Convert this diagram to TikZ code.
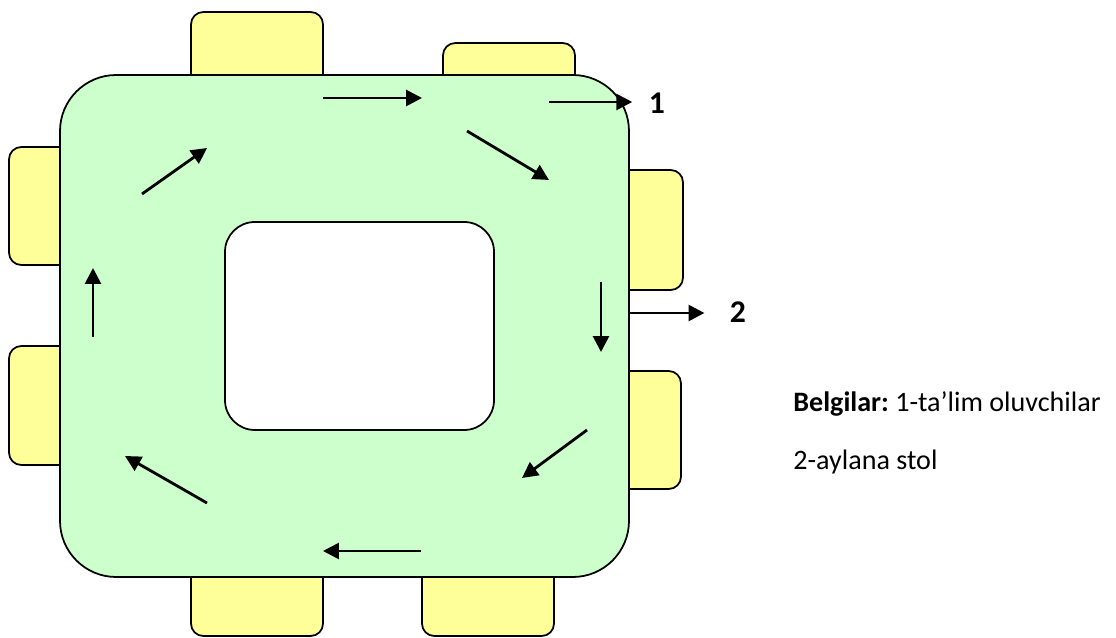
\documentclass[tikz,border=0pt]{standalone}
\usepackage{fontspec}
\setmainfont{Carlito}
\usepackage{xcolor}
\usetikzlibrary{arrows.meta}
\usetikzlibrary{positioning}

\definecolor{tablegreen}{HTML}{CCFFCC}
\definecolor{chairyellow}{HTML}{FFFF99}

\begin{document}
\begin{tikzpicture}[x=0.02cm, y=-0.02cm,
                    chair/.style={draw, line width=1pt, fill=chairyellow, rounded corners=7pt},
                    flow/.style={line width=1.6pt, -{Triangle[length=9pt,width=9pt]}},
                    digit/.style={font=\fontsize{18}{21}\selectfont\bfseries},
                    legend/.style={font=\fontsize{16}{19}\selectfont\frenchspacing, anchor=base west, inner sep=0pt}]
        \useasboundingbox (0,0) rectangle (1116,638);
        \draw[chair] (191,12) rectangle (323,110);
        \draw[chair] (443,43) rectangle (575,110);
        \draw[chair] (9,147) rectangle (100,265);
        \draw[chair] (9,346) rectangle (100,465);
        \draw[chair] (590,170) rectangle (683,290);
        \draw[chair] (590,371) rectangle (681,489);
        \draw[chair] (191,540) rectangle (323,636);
        \draw[chair] (422,540) rectangle (554,636);
        \draw[line width=1pt, fill=tablegreen, rounded corners=32pt] (60,75) rectangle (629,577);
        \draw[line width=1pt, fill=white, rounded corners=17pt] (225,222) rectangle (494,430);
        \foreach \xa/\ya/\xb/\yb in {323/98/422/98, 467/131/549/180, 601/282/601/352,
                                     587/430/522/478, 421/551/323/551, 207/503/125/456,
                                     93/337/93/268, 142/194/207/148}
                \draw[flow] (\xa,\ya) -- (\xb,\yb);
        \node[digit] (one) at (657,103) {1};
        \node[digit] (two) at (738,312) {2};
        \coordinate (s1) at (549,102);
        \coordinate (s2) at (630,313);
        \draw[flow, shorten >=6pt] (s1) -- (s1 -| one.west);
        \draw[flow, shorten >=11pt] (s2) -- (s2 -| two.west);
        \node[legend] (key) at (793,412) {\textbf{Belgilar:} 1-ta’lim oluvchilar};
        \node[legend] (table) at (793,470) {2-aylana stol};
\end{tikzpicture}
\end{document}
